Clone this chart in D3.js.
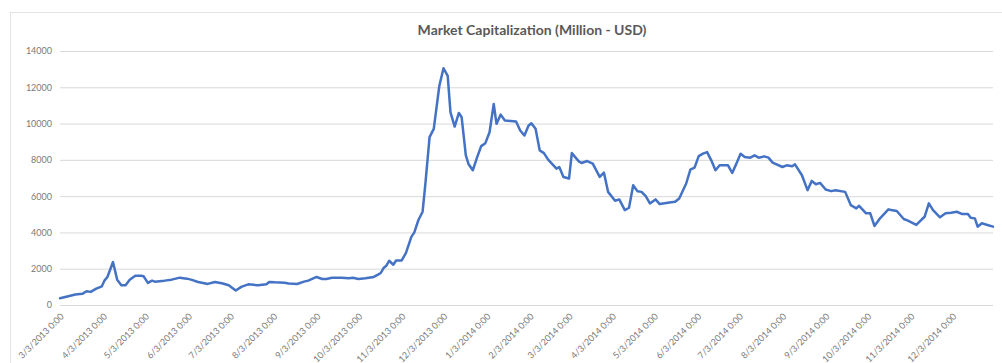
<!DOCTYPE html>
<html>
<head>
<meta charset="utf-8">
<script src="https://cdn.jsdelivr.net/npm/d3@7"></script>
<style>
  html, body { margin: 0; padding: 0; background: #fff; }
  svg { display: block; }
  text { font-family: Lato, "Open Sans", sans-serif; }
</style>
</head>
<body>
<svg id="chart" width="1002" height="363"></svg>
<script>
// Market capitalization, million USD, by date
const dates = [
  "2013-03-03","2013-03-09","2013-03-14","2013-03-19","2013-03-22","2013-03-25","2013-03-29",
  "2013-04-02","2013-04-04","2013-04-06","2013-04-10","2013-04-13","2013-04-16","2013-04-19",
  "2013-04-22","2013-04-26","2013-04-30","2013-05-02","2013-05-05","2013-05-08","2013-05-10",
  "2013-05-17","2013-05-22","2013-05-28","2013-06-02","2013-06-05","2013-06-10","2013-06-17",
  "2013-06-22","2013-06-27","2013-07-02","2013-07-07","2013-07-11","2013-07-16","2013-07-23",
  "2013-07-29","2013-07-31","2013-08-04","2013-08-11","2013-08-14","2013-08-20","2013-08-25",
  "2013-08-28","2013-09-03","2013-09-07","2013-09-10","2013-09-14","2013-09-21","2013-09-26",
  "2013-09-29","2013-10-03","2013-10-08","2013-10-14","2013-10-17","2013-10-19","2013-10-21",
  "2013-10-23","2013-10-25","2013-10-28","2013-10-30","2013-11-03","2013-11-06","2013-11-10",
  "2013-11-12","2013-11-15","2013-11-18","2013-11-20","2013-11-23","2013-11-26","2013-11-30",
  "2013-12-03","2013-12-06","2013-12-08","2013-12-11","2013-12-14","2013-12-16","2013-12-19",
  "2013-12-21","2013-12-24","2013-12-27","2013-12-30","2014-01-02","2014-01-05","2014-01-08",
  "2014-01-10","2014-01-13","2014-01-16","2014-01-24","2014-01-27","2014-01-30","2014-02-02",
  "2014-02-04","2014-02-07","2014-02-10","2014-02-13","2014-02-16","2014-02-22","2014-02-24",
  "2014-02-27","2014-03-03","2014-03-05","2014-03-10","2014-03-12","2014-03-16","2014-03-20",
  "2014-03-25","2014-03-28","2014-03-31","2014-04-05","2014-04-08","2014-04-12","2014-04-15",
  "2014-04-18","2014-04-21","2014-04-24","2014-04-27","2014-04-30","2014-05-04","2014-05-07",
  "2014-05-14","2014-05-18","2014-05-21","2014-05-24","2014-05-26","2014-05-29","2014-06-01",
  "2014-06-04","2014-06-07","2014-06-10","2014-06-13","2014-06-16","2014-06-19","2014-06-25",
  "2014-06-28","2014-07-01","2014-07-04","2014-07-07","2014-07-11","2014-07-14","2014-07-17",
  "2014-07-21","2014-07-24","2014-07-27","2014-08-03","2014-08-06","2014-08-10","2014-08-12",
  "2014-08-17","2014-08-21","2014-08-24","2014-08-27","2014-08-30","2014-09-03","2014-09-07",
  "2014-09-10","2014-09-17","2014-09-21","2014-09-25","2014-09-27","2014-10-02","2014-10-05",
  "2014-10-08","2014-10-12","2014-10-18","2014-10-20","2014-10-24","2014-10-29","2014-11-01",
  "2014-11-07","2014-11-11","2014-11-13","2014-11-16","2014-11-19","2014-11-24","2014-11-28",
  "2014-12-02","2014-12-06","2014-12-10","2014-12-14","2014-12-16","2014-12-19","2014-12-21",
  "2014-12-24","2014-12-28","2015-01-01"
];
const marketCap = [
  370, 480, 575, 614, 756, 723, 904,
  1030, 1359, 1545, 2367, 1397, 1085, 1085,
  1397, 1617, 1617, 1580, 1216, 1343, 1288,
  1343, 1397, 1507, 1452, 1397, 1271, 1162,
  1271, 1200, 1085, 795, 997, 1140, 1085,
  1140, 1271, 1250, 1230, 1180, 1160, 1288,
  1343, 1545, 1436, 1436, 1507, 1507, 1470,
  1507, 1436, 1470, 1545, 1671, 1764, 2038,
  2165, 2439, 2219, 2455, 2455, 2860, 3770,
  3990, 4685, 5140, 6696, 9250, 9710, 12083,
  13050, 12630, 10620, 9837, 10587, 10346, 8247,
  7754, 7425, 8120, 8757, 8921, 9524, 11080,
  9984, 10494, 10165, 10110, 9617, 9343, 9891,
  10017, 9710, 8521, 8373, 8012, 7518, 7606,
  7058, 6970, 8373, 7918, 7825, 7935, 7792,
  7058, 7299, 6236, 5743, 5820, 5233, 5360,
  6603, 6275, 6236, 6000, 5600, 5820, 5562,
  5655, 5688, 5874, 6368, 6697, 7464, 7573,
  8209, 8340, 8428, 7973, 7425, 7700, 7700,
  7277, 7792, 8340, 8154, 8120, 8247, 8120,
  8192, 8120, 7847, 7606, 7700, 7650, 7754,
  7151, 6329, 6839, 6658, 6729, 6368, 6275,
  6329, 6236, 5507, 5327, 5469, 5053, 5053,
  4357, 4779, 5272, 5235, 5179, 4740, 4647,
  4411, 4724, 4866, 5600, 5233, 4833, 5053,
  5085, 5140, 5014, 5014, 4811, 4775, 4318,
  4504, 4411, 4318
];
// Axis ticks
const xTickDates = [
  "2013-03-03","2013-04-03","2013-05-03","2013-06-03","2013-07-03","2013-08-03",
  "2013-09-03","2013-10-03","2013-11-03","2013-12-03","2014-01-03","2014-02-03",
  "2014-03-03","2014-04-03","2014-05-03","2014-06-03","2014-07-03","2014-08-03",
  "2014-09-03","2014-10-03","2014-11-03","2014-12-03"
];
const yTicks = [0, 2000, 4000, 6000, 8000, 10000, 12000, 14000];
const xDomain = ["2013-03-03", "2015-01-01"];
const title = "Market Capitalization (Million - USD)";

const parse = d3.utcParse("%Y-%m-%d");
const fmt = d3.utcFormat("%-m/%-d/%Y 0:00");
const data = dates.map((d, i) => ({ date: parse(d), value: marketCap[i] }));

const svg = d3.select("#chart");
const plot = { left: 60, right: 993, top: 51, bottom: 305 };

const x = d3.scaleUtc()
  .domain(xDomain.map(parse))
  .range([plot.left, plot.right]);
const y = d3.scaleLinear()
  .domain([0, 14000])
  .range([plot.bottom, plot.top]);

// chart frame
svg.append("rect")
  .attr("x", 10.5).attr("y", 12.5)
  .attr("width", 1000).attr("height", 400)
  .attr("fill", "none").attr("stroke", "#e3e3e3").attr("stroke-width", 1);

// title
svg.append("text")
  .attr("x", 532).attr("y", 35)
  .attr("text-anchor", "middle")
  .attr("font-size", 14).attr("font-weight", 700)
  .attr("fill", "#595959")
  .text(title);

// horizontal gridlines + y labels
const yAxis = d3.axisLeft(y).tickValues(yTicks)
  .tickSize(-(plot.right - plot.left)).tickPadding(8)
  .tickFormat(d3.format("d"));
const gy = svg.append("g").attr("transform", `translate(${plot.left},0)`).call(yAxis);
gy.select(".domain").remove();
gy.selectAll(".tick line").attr("stroke", "#d9d9d9").attr("stroke-width", 1);
gy.selectAll(".tick text")
  .attr("font-family", "Lato, 'Open Sans', sans-serif")
  .attr("font-size", 9).attr("fill", "#7a7a7a");

// x labels, rotated
const xAxis = d3.axisBottom(x).tickValues(xTickDates.map(parse))
  .tickSize(0).tickFormat(fmt);
const gx = svg.append("g").attr("transform", `translate(0,${plot.bottom})`).call(xAxis);
gx.select(".domain").remove();
gx.selectAll(".tick text")
  .attr("font-family", "Lato, 'Open Sans', sans-serif")
  .attr("font-size", 9).attr("fill", "#7a7a7a")
  .attr("text-anchor", "end")
  .attr("dy", null).attr("y", null)
  .attr("transform", "translate(4,12) rotate(-45)");

// series line
const line = d3.line()
  .x(d => x(d.date))
  .y(d => y(d.value));
svg.append("path")
  .datum(data)
  .attr("d", line)
  .attr("fill", "none")
  .attr("stroke", "#4472C4")
  .attr("stroke-width", 2.5)
  .attr("stroke-linejoin", "round")
  .attr("stroke-linecap", "round");
</script>
</body>
</html>
